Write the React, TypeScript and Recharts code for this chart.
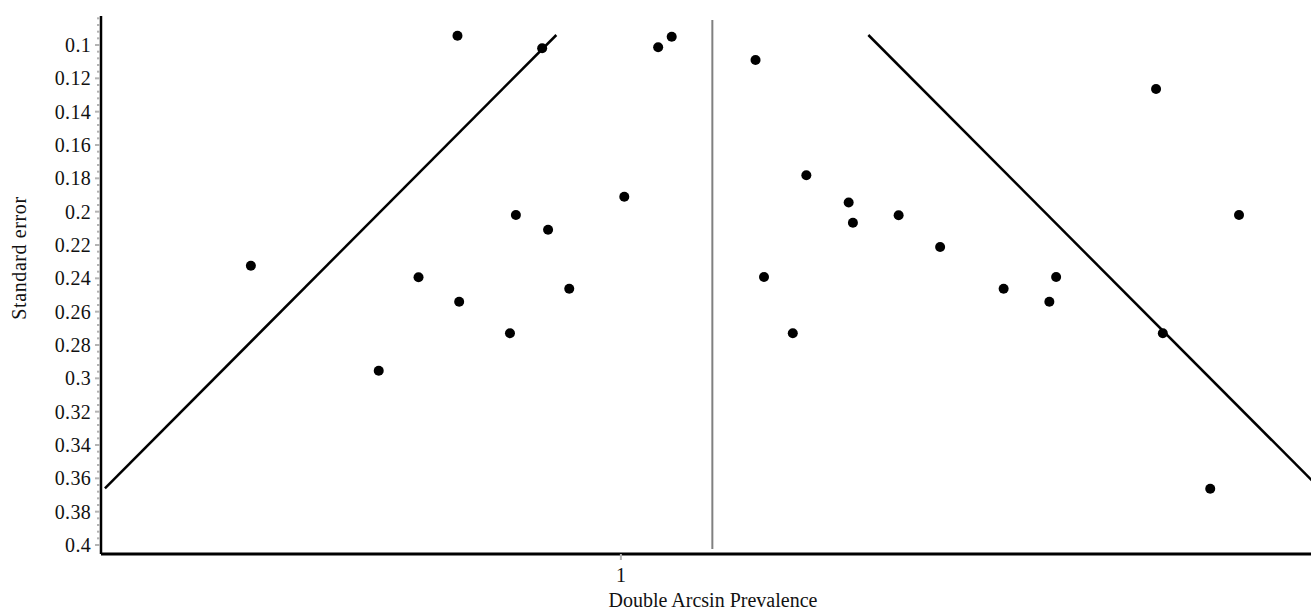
import React from 'react';
import { ScatterChart, Scatter, XAxis, YAxis, ReferenceLine } from 'recharts';

// study effect sizes (double arcsine transformed prevalence) and their standard errors
const STUDY_EFFECT = [
  0.563, 0.714, 0.761, 0.807, 0.809, 0.869, 0.876, 0.907, 0.914, 0.939,
  1.004, 1.044, 1.06, 1.159, 1.169, 1.203, 1.219, 1.269, 1.274, 1.328,
  1.377, 1.452, 1.506, 1.514, 1.632, 1.64, 1.73, 1.696,
];
const STUDY_SE = [
  0.2324, 0.2954, 0.2394, 0.0944, 0.254, 0.273, 0.202, 0.102, 0.2108, 0.2462,
  0.191, 0.1014, 0.095, 0.109, 0.2392, 0.273, 0.1782, 0.1945, 0.2066, 0.2022,
  0.2212, 0.2462, 0.254, 0.2392, 0.1264, 0.273, 0.202, 0.3662,
];

const POOLED = 1.108;
const Z = 1.96;
const FUNNEL_SE = [0.094, 0.366];
const POOLED_SE = [0.085, 0.4024];

const X_DOMAIN = [0.386, 1.815];
const Y_DOMAIN = [0.0826, 0.4054];
const X_TICKS = [1];
const Y_MAJOR = [0.1, 0.12, 0.14, 0.16, 0.18, 0.2, 0.22, 0.24, 0.26, 0.28, 0.3, 0.32, 0.34, 0.36, 0.38, 0.4];
// minor ticks every 0.004 between the labelled ones
const Y_TICKS = Array.from({ length: 80 }, (_, i) => +(0.084 + i * 0.004).toFixed(3));

const FONT = '"Liberation Serif", "Times New Roman", serif';
const TEXT = '#111';
const TICK_GRAY = '#b4b4b4';

const points = STUDY_EFFECT.map((x, i) => ({ x, se: STUDY_SE[i] }));

const leftLeg = FUNNEL_SE.map((se) => ({ x: POOLED - Z * se, y: se }));
const rightLeg = FUNNEL_SE.map((se) => ({ x: POOLED + Z * se, y: se }));

const YTick = (props: any) => {
  const { x, y, payload } = props;
  const major = Y_MAJOR.includes(payload.value);
  return (
    <g>
      <line x1={x - (major ? 6 : 4)} x2={x - 1} y1={y} y2={y} stroke={TICK_GRAY} strokeWidth={2} />
      {major && (
        <text
          x={x - 10}
          y={y}
          dy="0.35em"
          textAnchor="end"
          fontSize={20}
          letterSpacing={0.3}
          fill={TEXT}
          fontFamily={FONT}
        >
          {payload.value}
        </text>
      )}
    </g>
  );
};

const Dot = (props: any) => <circle cx={props.cx} cy={props.cy} r={5} fill="#000" />;

export default function App() {
  return (
    <div style={{ position: 'absolute', left: 0, top: 0, background: '#fff', fontFamily: FONT }}>
      <ScatterChart width={1311} height={610} margin={{ top: 16, right: 0, bottom: 0, left: 0 }}>
        <XAxis
          type="number"
          dataKey="x"
          domain={X_DOMAIN}
          ticks={X_TICKS}
          allowDataOverflow
          height={56}
          axisLine={{ stroke: '#000', strokeWidth: 3 }}
          tickLine={{ stroke: TICK_GRAY, strokeWidth: 2 }}
          tickSize={6}
          tickMargin={8}
          tick={{ fill: TEXT, fontSize: 20, fontFamily: FONT }}
          label={{
            content: (p: any) => (
              <text
                x={p.viewBox.x + p.viewBox.width / 2 + 7}
                y={607}
                textAnchor="middle"
                fontSize={20}
                fill={TEXT}
                fontFamily={FONT}
              >
                Double Arcsin Prevalence
              </text>
            ),
          }}
        />
        <YAxis
          type="number"
          dataKey="se"
          domain={Y_DOMAIN}
          reversed
          allowDataOverflow
          ticks={Y_TICKS}
          interval={0}
          width={101}
          axisLine={{ stroke: '#000', strokeWidth: 2.5 }}
          tickLine={false}
          tickSize={0}
          tickMargin={0}
          tick={<YTick />}
          label={{
            content: (p: any) => {
              const cy = p.viewBox.y + p.viewBox.height / 2 - 27;
              return (
                <text
                  x={26}
                  y={cy}
                  transform={`rotate(-90, 26, ${cy})`}
                  textAnchor="middle"
                  fontSize={20}
                  letterSpacing={0.6}
                  fill={TEXT}
                  fontFamily={FONT}
                >
                  Standard error
                </text>
              );
            },
          }}
        />
        <ReferenceLine
          segment={POOLED_SE.map((se) => ({ x: POOLED, y: se }))}
          stroke="#808080"
          strokeWidth={2}
        />
        <ReferenceLine segment={leftLeg} stroke="#000" strokeWidth={2.5} ifOverflow="hidden" />
        <ReferenceLine segment={rightLeg} stroke="#000" strokeWidth={2.5} ifOverflow="hidden" />
        <Scatter data={points} shape={<Dot />} isAnimationActive={false} />
      </ScatterChart>
    </div>
  );
}
